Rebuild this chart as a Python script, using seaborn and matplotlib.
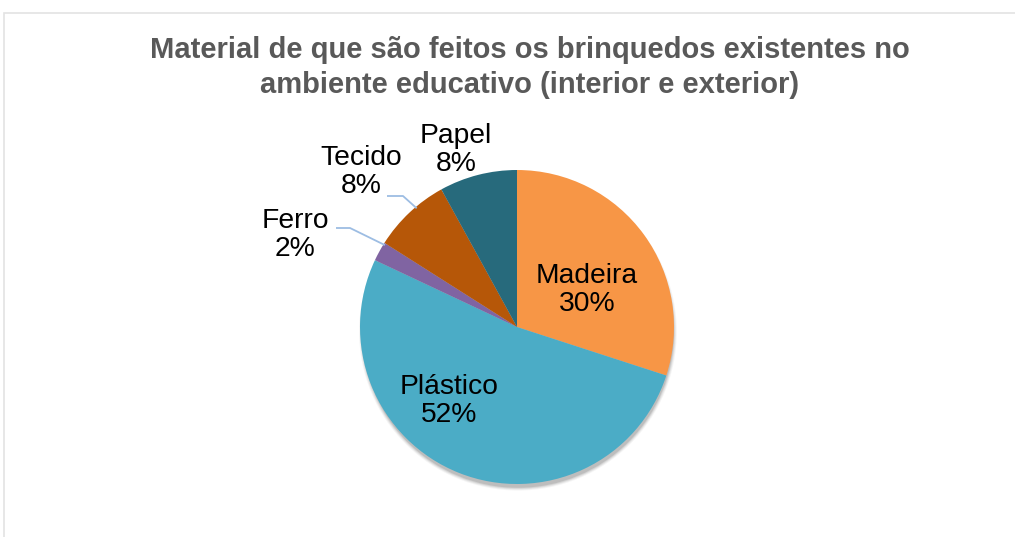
import numpy as np
import matplotlib
matplotlib.use('Agg')
import matplotlib.pyplot as plt
import matplotlib.patches as mpatches
import seaborn as sns

sns.set_theme(style='white')
plt.rcParams['font.family'] = ['Liberation Sans', 'DejaVu Sans']

# data
materials = ['Madeira', 'Plástico', 'Ferro', 'Tecido', 'Papel']
percent = [30, 52, 2, 8, 8]
colors = ['#F79646', '#4BACC6', '#8064A2', '#B65708', '#276A7C']

title = 'Material de que são feitos os brinquedos existentes no\nambiente educativo (interior e exterior)'

W, H = 1015, 537
fig = plt.figure(figsize=(W / 100, H / 100), dpi=100)

# chart frame (only top and left edges fall inside the picture)
fig.patches.append(mpatches.Rectangle((4 / W, -0.05), 1.1, 1 - 13 / H + 0.05,
                                      transform=fig.transFigure, fill=False,
                                      edgecolor='#E3E3E3', linewidth=1.2))

# pie: center at (517, 327) px, radius 157 px
cx, cy, R = 517, 327, 157
box = 200
ax = fig.add_axes([(cx - box) / W, (H - cy - box) / H, 2 * box / W, 2 * box / H])

wedges, _ = ax.pie(percent, colors=colors, startangle=90, counterclock=False,
                   radius=1.0, wedgeprops=dict(linewidth=0, edgecolor='none'))
for w in wedges:
    w.set_zorder(2)

lim = box / R
ax.set_xlim(-lim, lim)
ax.set_ylim(-lim, lim)
ax.set_aspect('equal')
ax.axis('off')

# soft shadow, mostly below the pie
for k, a in enumerate([0.04, 0.06, 0.08, 0.10]):
    ax.add_patch(mpatches.Circle((0.006, -0.03), 1.0 + 0.012 - k * 0.006,
                                 facecolor='#000000', alpha=a, edgecolor='none', zorder=0))

def px(x, y):
    return (x - cx) / R, (cy - y) / R

label_pos = {
    'Madeira': px(587, 290),
    'Plástico': px(449, 401),
    'Ferro': px(295, 235),
    'Tecido': px(361, 172),
    'Papel': px(456, 150),
}
for name, val in zip(materials, percent):
    x, y = label_pos[name]
    ax.text(x, y, f'{name}\n{val}%', ha='center', va='center', fontsize=20.3,
            color='#000000', linespacing=1.08, zorder=5)

# leader lines for the small outside labels
elbows = {'Ferro': [px(336, 228), px(350, 228)],
          'Tecido': [px(387, 196), px(403, 196)]}
for name, pts in elbows.items():
    w = wedges[materials.index(name)]
    mid = np.deg2rad((w.theta1 + w.theta2) / 2 - 3)
    end = (0.99 * np.cos(mid), 0.99 * np.sin(mid))
    xs = [p[0] for p in pts] + [end[0]]
    ys = [p[1] for p in pts] + [end[1]]
    ax.plot(xs, ys, color='#9DBDE3', linewidth=1.3, zorder=4, solid_capstyle='butt')

fig.text(530 / W, 1 - 36 / H, title, ha='center', va='top', fontsize=21,
         fontweight='bold', color='#595959', linespacing=1.34)

fig.savefig('out.png', dpi=100, facecolor='white')
